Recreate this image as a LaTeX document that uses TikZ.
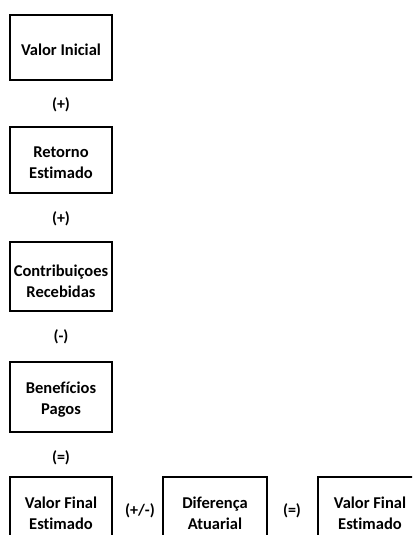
\documentclass[tikz,border=0pt]{standalone}
\usepackage{fontspec}
\setmainfont{Carlito}[Ligatures=NoCommon]
\begin{document}
\begin{tikzpicture}[x=1pt,y=-1pt,
  txt/.style={font=\fontsize{16.5}{21}\selectfont\bfseries, align=center, inner sep=0pt},
  opr/.style={font=\fontsize{16}{20}\selectfont\bfseries, inner sep=0pt},
  thinedge/.style={draw=black, line width=1.3pt},
  thickedge/.style={draw=black, line width=2.8pt}]
\useasboundingbox (0,0) rectangle (412,535);
\clip (0,0) rectangle (412,535);
% frames
\newcommand\frm[4]{%
  \draw[thinedge] (#1,#2) rectangle (#3,#4);
  \draw[thickedge] (#3,#2) -- (#3,#4) -- (#1,#4);}
\frm{10}{15}{112}{80}
\frm{10}{127}{112}{193}
\frm{10}{242}{112}{311}
\frm{10}{362}{112}{432}
\frm{10}{477}{112}{548}
\frm{163}{477}{267}{548}
\draw[thinedge] (430,477) -- (318,477) -- (318,548);
% texts
\node[txt] (valini) at (61,50) {Valor Inicial};
\node[opr] (op1) at (61,105) {(+)};
\node[txt] (ret) at (61,163) {Retorno\\Estimado};
\node[opr] (op2) at (61,219) {(+)};
\node[txt] (contr) at (61,281) {Contribuiçoes\\Recebidas};
\node[opr] (op3) at (61,337) {(-)};
\node[txt] (benef) at (61,400) {Benefícios\\Pagos};
\node[opr] (op4) at (61,458) {(=)};
\node[txt] (vfe1) at (61,513) {Valor Final\\Estimado};
\node[opr] (op5) at (140,511) {(+/-)};
\node[txt] (dif) at (215,513) {Diferença\\Atuarial};
\node[opr] (op6) at (292,511) {(=)};
\node[txt] (vfe2) at (370,513) {Valor Final\\Estimado};
\end{tikzpicture}
\end{document}
